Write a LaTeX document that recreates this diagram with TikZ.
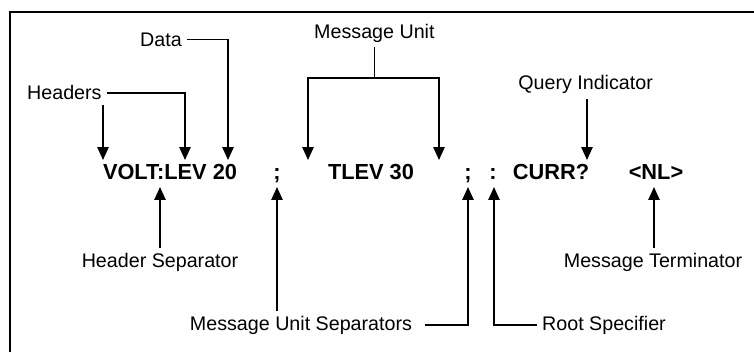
\documentclass[tikz,border=0pt]{standalone}
\usepackage{fontspec}
\setmainfont{Liberation Sans}
\usepackage{tikz}
\usetikzlibrary{positioning,calc,arrows.meta}

\begin{document}
\begin{tikzpicture}[
    lbl/.style={font=\fontsize{14}{16}\selectfont},
    code/.style={anchor=base, inner sep=1pt, font=\fontsize{15.5}{18}\selectfont\bfseries},
    conn/.style={draw, line width=1.1pt, -{Triangle[length=0.32cm, width=0.28cm]}},
    link/.style={draw, line width=1.1pt},
    frame/.style={draw, line width=1.4pt}
]
\useasboundingbox (0,0) rectangle (18.85,-8.8);

% Frame on the left and at the top
\draw[frame] (0.25,-8.8) -- (0.25,-0.3) -- (18.85,-0.3);

% Command line
\node[code] (volt) at (4.25,-4.475) {VOLT:LEV 20};
\node[code] (semiA) at (6.925,-4.475) {;};
\node[code] (tlev) at (9.275,-4.475) {TLEV 30};
\node[code] (semiB) at (11.7,-4.475) {;};
\node[code] (root) at (12.325,-4.475) {:};
\node[code] (curr) at (13.775,-4.475) {CURR?};
\node[code] (nl) at (16.4,-4.475) {<NL>};

% Labels
\node[lbl] (data) at (4.025,-0.99) {Data};
\node[lbl] (hd) at (1.61,-2.32) {Headers};
\node[lbl] (mu) at (9.36,-0.83) {Message Unit};
\node[lbl] (qi) at (14.64,-2.12) {Query Indicator};
\node[lbl] (hs) at (4.0,-6.55) {Header Separator};
\node[lbl] (mt) at (16.325,-6.55) {Message Terminator};
\node[lbl, inner xsep=9pt] (mus) at (7.525,-8.125) {Message Unit Separators};
\node[lbl] (rs) at (15.1,-8.125) {Root Specifier};

% Arrow ends at the command line
\coordinate (tVolt) at (2.575,-4.0);
\coordinate (tLev) at (4.625,-4.0);
\coordinate (tData) at (5.7,-4.0);
\coordinate (tUnitA) at (7.7,-4.0);
\coordinate (tUnitB) at (10.975,-4.0);
\coordinate (tQuery) at (14.675,-4.0);
\coordinate (muJoin) at (9.36,-1.95);
\coordinate (tSep) at (4.0,-4.675);
\coordinate (tSemiA) at (6.925,-4.675);
\coordinate (tSemiB) at (11.7,-4.675);
\coordinate (tRoot) at (12.35,-4.675);
\coordinate (tTerm) at (16.35,-4.675);

% Connectors from the top labels
\draw[conn] (data) -| (tData);
\draw[conn] (hd) -| (tLev);
\draw[conn] (hd.south -| tVolt) -- (tVolt);
\draw[link] (mu.south) -- (muJoin);
\draw[conn] (muJoin) -| (tUnitA);
\draw[conn] (muJoin) -| (tUnitB);
\draw[conn] (qi.south -| tQuery) -- (tQuery);

% Connectors from the bottom labels
\draw[conn] (hs.north) -- (tSep);
\draw[conn] (mus.north -| tSemiA) -- (tSemiA);
\draw[conn] (mus) -| (tSemiB);
\draw[conn] (rs) -| (tRoot);
\draw[conn] (mt.north -| tTerm) -- (tTerm);

\end{tikzpicture}
\end{document}
